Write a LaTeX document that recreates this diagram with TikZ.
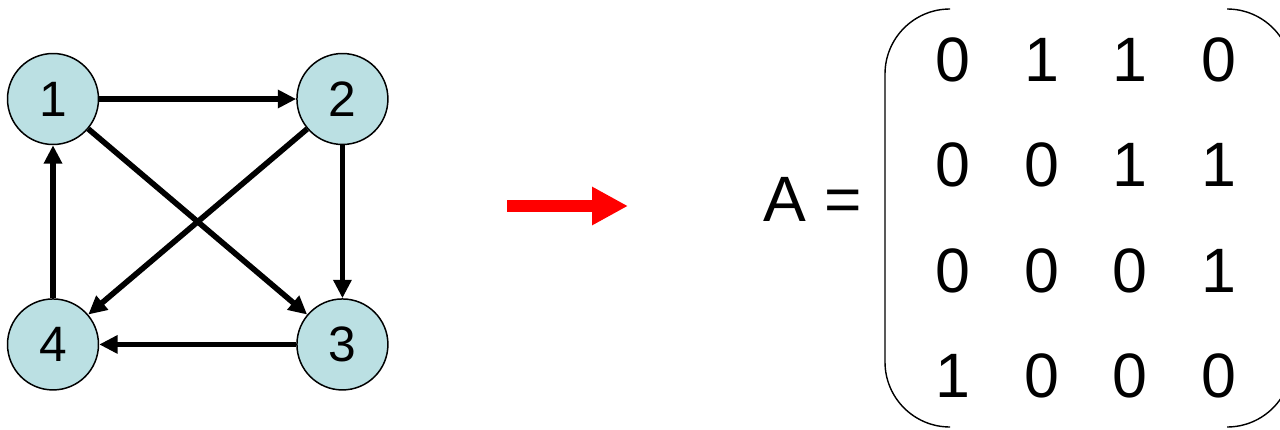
\documentclass[tikz,border=0pt]{standalone}
\usepackage{fontspec}
\setmainfont{Liberation Sans}
\usepackage{tikz}
\usetikzlibrary{arrows.meta, positioning, matrix}
\usepackage{xcolor}
\definecolor{vertexfill}{HTML}{BBE0E3}

\begin{document}
\begin{tikzpicture}[
    x=0.02cm, y=-0.02cm,
    node distance=3.06cm and 3.94cm,
    vertex/.style={circle, draw=black, line width=0.85pt, fill=vertexfill,
                   minimum size=1.82cm, inner sep=0pt, font=\fontsize{28.3}{30}\selectfont},
    cell/.style={minimum width=1.774cm, minimum height=2.11cm, inner sep=0pt,
                 font=\fontsize{35.7}{38}\selectfont},
    edge/.style={-{Triangle[length=10.5pt, width=10pt]}, line width=3.2pt},
    bigarr/.style={-{Triangle[length=20.4pt, width=20.4pt]}, line width=6.8pt, draw=red},
    paren/.style={line width=0.8pt, rounded corners=1.3cm}
]
\useasboundingbox (0,0) rectangle (1280,429);

% graph
\node[vertex] (n1) at (53,99) {1};
\node[vertex, right=of n1] (n2) {2};
\node[vertex, below=of n2] (n3) {3};
\node[vertex, below=of n1] (n4) {4};

\draw[edge] (n1) -- (n2);
\draw[edge] (n2) -- (n3);
\draw[edge] (n3) -- (n4);
\draw[edge] (n4) -- (n1);
\draw[edge] (n1) -- (n3);
\draw[edge] (n2) -- (n4);

% red arrow
\coordinate (arrS) at (507,206);
\coordinate (arrE) at (628,206);
\draw[bigarr] (arrS) -- (arrE);

% adjacency matrix
\node[font=\fontsize{36.5}{38}\selectfont] (lhs) at (813,199) {A =};
\matrix (adj) [matrix of nodes, nodes={cell}, column sep=0pt, row sep=0pt] at (1086,218) {
  0 & 1 & 1 & 0 \\
  0 & 0 & 1 & 1 \\
  0 & 0 & 0 & 1 \\
  1 & 0 & 0 & 0 \\
};
\draw[paren] (950,9) -- (885,9) -- (885,427) -- (950,427);
\begin{scope}
  \clip (0,0) rectangle (1280,429);
  \draw[paren] (1227,9) -- (1292,9) -- (1292,427) -- (1227,427);
\end{scope}
\end{tikzpicture}
\end{document}
